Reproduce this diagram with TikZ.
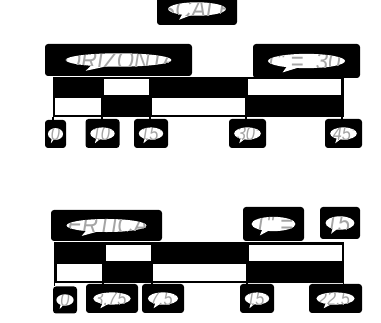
\documentclass[tikz,border=0pt]{standalone}
\usepackage{fontspec}
\setmainfont{Liberation Sans}
\newfontfamily\lblfont[FakeStretch=0.82]{Liberation Sans}
\usetikzlibrary{calc}
\definecolor{txtgray}{RGB}{165,165,165}
\tikzset{
  blackbox/.style={fill=black, rounded corners=3pt, inner sep=0pt, draw=none},
  lbltext/.style={text=txtgray, inner sep=0pt},
  tickline/.style={draw=black, line width=1.2pt},
}
\newcommand\lbox[8]{%
  \node[blackbox, minimum width=#4pt, minimum height=#5pt] (#1) at (#2,#3) {};
  \pgfmathsetmacro\rxv{0.36*#4}\pgfmathsetmacro\ryv{0.21*#5}%
  \fill[white] (#1.center) ellipse [x radius=\rxv pt, y radius=\ryv pt];
  \fill[white] ($(#1.center)+(-0.5*\rxv,0.7*\ryv)$) -- ($(#1.center)+(-0.62*\rxv,1.6*\ryv)$) -- ($(#1.center)+(-0.2*\rxv,0.9*\ryv)$) -- cycle;
  \begin{scope}
    \clip (#1.center) ellipse [x radius=\rxv pt, y radius=\ryv pt];
    \node[lbltext, font=\lblfont\fontsize{#7}{#7}\selectfont\itshape, xshift=#8pt] (#1t) at (#1.center) {#6};
  \end{scope}
}
\begin{document}
\begin{tikzpicture}[x=1pt,y=-1pt]
\useasboundingbox (0,0) rectangle (381,323);
% ---------- horizontal scale ----------
\lbox{scale}{197}{9}{80}{32}{SCALE}{27}{0}
\lbox{horiz}{118.5}{60}{147}{32}{HORIZONTAL}{27}{0}
\lbox{hscl}{306.5}{61}{107}{34}{1"\ =\ \ 30'}{27}{-2}
% bar
\fill[black] (52.5,77) rectangle (343.5,117.5);
\fill[white] (103.5,79) rectangle (148.5,95);
\fill[white] (248,79) rectangle (341,95);
\fill[white] (55,98) rectangle (101,115.5);
\fill[white] (152,98) rectangle (245,115.5);
\coordinate (ht0) at (53,117);
\coordinate (ht1) at (102,117);
\coordinate (ht2) at (150,117);
\coordinate (ht3) at (246,117);
\coordinate (ht4) at (342,117);
\lbox{h0}{55.5}{134}{21}{28}{0}{20}{0}
\lbox{h10}{102.5}{133.5}{34}{29}{10'}{20}{0}
\lbox{h15}{151}{133.5}{34}{29}{15'}{20}{0}
\lbox{h30}{247.5}{133.5}{37}{29}{30'}{20}{0}
\lbox{h45}{343.5}{133.5}{37}{29}{45'}{20}{0}
\draw[tickline] (ht0) -- (ht0 |- h0.north);
\draw[tickline] (ht1) -- (ht1 |- h10.north);
\draw[tickline] (ht2) -- (ht2 |- h15.north);
\draw[tickline] (ht3) -- (ht3 |- h30.north);
\draw[tickline] (ht4) -- (ht4 |- h45.north);
% ---------- vertical scale ----------
\lbox{vert}{106.5}{225.5}{111}{31}{VERTICAL}{27}{0}
\lbox{vscl}{273.5}{224}{61}{34}{1"\ =}{27}{0}
\lbox{vsclb}{340}{223}{40}{32}{15'}{27}{0}
\fill[black] (54,242.3) rectangle (344.3,283.3);
\fill[white] (105.5,244.8) rectangle (150.5,261);
\fill[white] (248.5,244.8) rectangle (342,261);
\fill[white] (57,264.5) rectangle (102,281);
\fill[white] (153,264.5) rectangle (246,281);
\coordinate (vt0) at (54.5,283);
\coordinate (vt1) at (103,283);
\coordinate (vt2) at (152,283);
\coordinate (vt3) at (247,283);
\coordinate (vt4) at (343.5,283);
\lbox{v0}{65}{300}{24}{27}{0}{20}{0}
\lbox{v375}{112}{298.5}{52}{29}{3.75'}{20}{0}
\lbox{v75}{163}{298.5}{42}{29}{7.5'}{20}{0}
\lbox{v15}{257}{298.5}{34}{29}{15'}{20}{0}
\lbox{v225}{335.5}{298.5}{53}{29}{22.5'}{20}{0}
\draw[tickline] (vt0) -- (vt0 |- v0.north);
\draw[tickline] (vt1) -- (vt1 |- v375.north);
\draw[tickline] (vt2) -- (vt2 |- v75.north);
\draw[tickline] (vt3) -- (vt3 |- v15.north);
\draw[tickline] (vt4) -- (vt4 |- v225.north);
\end{tikzpicture}
\end{document}
